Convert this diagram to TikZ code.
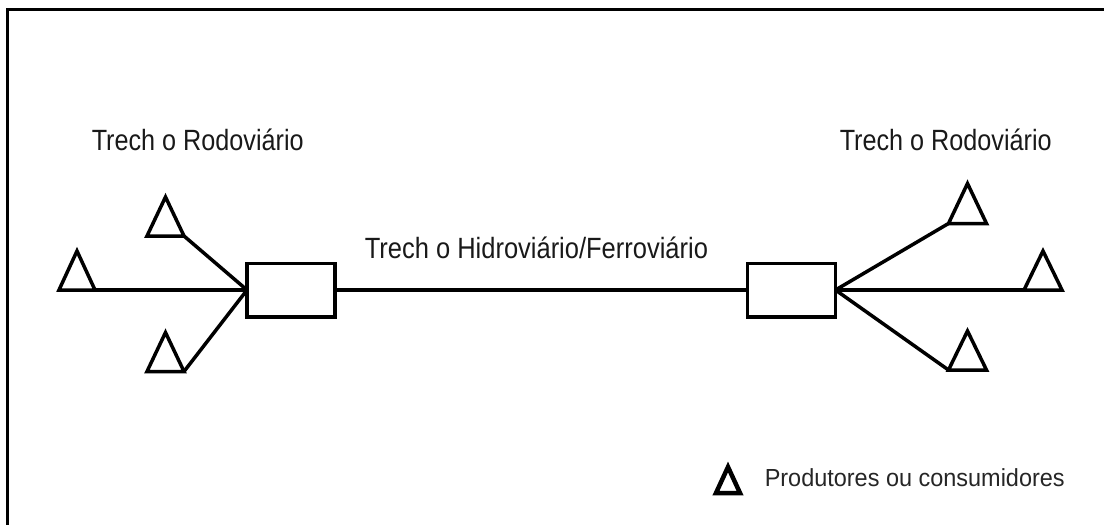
\documentclass[tikz,border=0pt]{standalone}
\usepackage{fontspec}
\setmainfont{Liberation Sans}
\usetikzlibrary{shapes.geometric}
\begin{document}
\begin{tikzpicture}[x=1pt,y=-1pt,
  line width=3.5pt,
  terminal/.style={draw, isosceles triangle, isosceles triangle stretches,
    shape border rotate=90, minimum width=37pt, minimum height=39pt,
    inner sep=0pt, outer sep=0pt, anchor=lower side, line join=miter},
  hub/.style={draw, rectangle, minimum width=88pt, minimum height=53.5pt,
    inner sep=0pt, outer sep=0pt},
  title/.style={inner sep=0pt, anchor=base west, text=black!90,
    font=\fontsize{29.3}{32}\selectfont},
  legendtext/.style={inner sep=0pt, anchor=base west, text=black!85,
    font=\fontsize{24.7}{28}\selectfont}]
  \useasboundingbox (0,0) rectangle (1104,525);

  % outer frame (top and left edges)
  \draw[line width=3.3pt] (7.5,525) -- (7.5,9.5) -- (1104,9.5);

  % transfer terminals
  \node[hub] (hubL) at (291,290) {};
  \node[hub] (hubR) at (791.5,290) {};

  % producers / consumers
  \node[terminal] (tLu) at (165.5,236) {};
  \node[terminal, minimum width=36pt] (tLm) at (77,290) {};
  \node[terminal] (tLd) at (165.5,371.5) {};
  \node[terminal, minimum width=38pt, minimum height=40pt] (tRu) at (967.5,223.5) {};
  \node[terminal, minimum width=38pt] (tRm) at (1043,290) {};
  \node[terminal, minimum width=38pt, minimum height=39pt] (tRd) at (967.5,370) {};

  % road links
  \draw (tLu.right corner) -- (hubL.west);
  \draw (tLm.right corner) -- (hubL.west);
  \draw (tLd.right corner) -- (hubL.west);
  \draw (hubR.east) -- (tRu.left corner);
  \draw (hubR.east) -- (tRm.left corner);
  \draw (hubR.east) -- (tRd.left corner);

  % waterway / railway link
  \draw (hubL.east) -- (hubR.west);

  % labels
  \node[title] (lblL) at (90,150) {\scalebox{0.86}[1]{Trech o Rodoviário}};
  \node[title] (lblR) at (838,150) {\scalebox{0.86}[1]{Trech o Rodoviário}};
  \node[title] (lblM) at (363,258) {\scalebox{0.87}[1]{Trech o Hidroviário/Ferroviário}};

  % legend
  \node[terminal, line width=4.5pt, minimum width=24pt, minimum height=26pt] (key) at (728,493) {};
  \node[legendtext] (keytext) at (763,486) {\scalebox{0.95}[1]{Produtores ou consumidores}};
\end{tikzpicture}
\end{document}
